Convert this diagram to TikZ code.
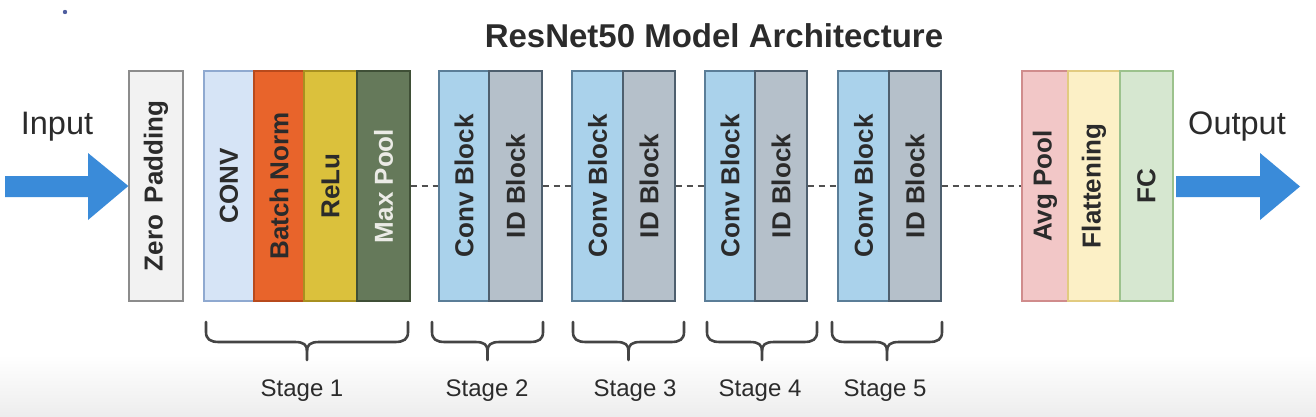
\documentclass[tikz,border=0pt]{standalone}
\usepackage{fontspec}
\setmainfont{Liberation Sans}
\definecolor{txt}{HTML}{2B2B2B}
\definecolor{arrowblue}{HTML}{3A8BD9}
\definecolor{zpfill}{HTML}{F2F2F2}\definecolor{zpdraw}{HTML}{8C8C8C}
\definecolor{cvfill}{HTML}{D6E4F6}\definecolor{cvdraw}{HTML}{8FA9D0}
\definecolor{bnfill}{HTML}{E8642B}\definecolor{bndraw}{HTML}{B84A1C}
\definecolor{rlfill}{HTML}{DBC13C}\definecolor{rldraw}{HTML}{A89020}
\definecolor{mpfill}{HTML}{65795A}\definecolor{mpdraw}{HTML}{3F4F36}
\definecolor{cbfill}{HTML}{AAD2EB}\definecolor{cbdraw}{HTML}{5B7E98}
\definecolor{idfill}{HTML}{B5C0CA}\definecolor{iddraw}{HTML}{4E5F6E}
\definecolor{apfill}{HTML}{F2C7C7}\definecolor{apdraw}{HTML}{D08C8C}
\definecolor{flfill}{HTML}{FCF0C6}\definecolor{fldraw}{HTML}{E2CB80}
\definecolor{fcfill}{HTML}{D6E7D0}\definecolor{fcdraw}{HTML}{9CC28D}
\definecolor{brcol}{HTML}{444444}
\definecolor{dashcol}{HTML}{505050}
\begin{document}
\begin{tikzpicture}[x=1pt,y=-1pt,
  blk/.style={draw, rotate=90, minimum width=230pt, minimum height=#1pt, inner sep=0pt,
    font=\fontsize{26}{30}\selectfont\bfseries, text=txt, line width=1.3pt},
  blk/.default=50,
  dashconn/.style={dashcol, line width=2.6pt, dash pattern=on 6pt off 5pt},
  brc/.style={brcol, line width=2.6pt, line cap=round, line join=round},
  fat/.style={fill=arrowblue, draw=none},
  stagelab/.style={font=\fontsize{24}{27}\selectfont, text=txt},
  biglab/.style={font=\fontsize{32.5}{36}\selectfont, text=txt}
]
\useasboundingbox (0,0) rectangle (1316,416);
\shade[top color=white, bottom color=black!7] (0,355) rectangle (1316,416);
\fill[fill={rgb,255:red,80;green,95;blue,160}] (65,12) circle (2.2pt);

\node[font=\fontsize{33}{38}\selectfont\bfseries, text=txt] (title) at (714,36) {ResNet50 Model Architecture};

% input / output
\node[biglab] (inlab) at (57,127) {Input};
\node[biglab] (outlab) at (1237,127) {Output};

% blocks
\node[blk=54, fill=zpfill, draw=zpdraw] (zp) at (156,186) {Zero\hspace{0.45em}Padding};
\node[blk=50, fill=cvfill, draw=cvdraw] (conv) at (229,186) {CONV};
\node[blk=50, fill=bnfill, draw=bndraw] (bn) at (279,186) {Batch Norm};
\node[blk=53, fill=rlfill, draw=rldraw] (relu) at (330.5,186) {ReLu};
\node[blk=53, fill=mpfill, draw=mpdraw, text={rgb,255:red,235;green,235;blue,230}] (mp) at (383.5,186) {Max Pool};

\node[blk=50, fill=cbfill, draw=cbdraw] (cb2) at (464,186) {Conv Block};
\node[blk=53, fill=idfill, draw=iddraw] (id2) at (515.5,186) {ID Block};
\node[blk=51, fill=cbfill, draw=cbdraw] (cb3) at (597.5,186) {Conv Block};
\node[blk=52, fill=idfill, draw=iddraw] (id3) at (649,186) {ID Block};
\node[blk=50, fill=cbfill, draw=cbdraw] (cb4) at (730,186) {Conv Block};
\node[blk=52, fill=idfill, draw=iddraw] (id4) at (781,186) {ID Block};
\node[blk=51, fill=cbfill, draw=cbdraw] (cb5) at (863.5,186) {Conv Block};
\node[blk=52, fill=idfill, draw=iddraw] (id5) at (915,186) {ID Block};

\node[blk=46, fill=apfill, draw=apdraw] (ap) at (1045,186) {Avg Pool};
\node[blk=52, fill=flfill, draw=fldraw] (fl) at (1094,186) {Flattening};
\node[blk=53, fill=fcfill, draw=fcdraw] (fc) at (1146.5,186) {FC};

% dashed connectors
\draw[dashconn] (mp.south) -- (cb2.north);
\draw[dashconn] (id2.south) -- (cb3.north);
\draw[dashconn] (id3.south) -- (cb4.north);
\draw[dashconn] (id4.south) -- (cb5.north);
\draw[dashconn] (id5.south) -- (ap.north);

% fat arrows
\coordinate (intip) at (zp.north);
\fill[fat] (5,176) -- (88,176) -- (88,153) -- (intip) -- (88,220) -- (88,197) -- (5,197) -- cycle;
\coordinate (outtip) at (1300,186.5);
\fill[fat] (1176,176) -- (1260,176) -- (1260,153) -- (outtip) -- (1260,220) -- (1260,197) -- (1176,197) -- cycle;

% braces
\foreach \a/\b/\lab/\lx in {206/408/1/302, 432/543/2/487, 573/684/3/635, 707/817/4/760, 832/942/5/885}{
  \pgfmathsetmacro\m{(\a+\b)/2}
  \draw[brc] (\a,322) -- (\a,332) .. controls (\a,339) and (\a+4,342) .. (\a+13,342)
     -- (\m-12,342) .. controls (\m-3,342) and (\m,345) .. (\m,351) -- (\m,360);
  \draw[brc] (\b,322) -- (\b,332) .. controls (\b,339) and (\b-4,342) .. (\b-13,342)
     -- (\m+12,342) .. controls (\m+3,342) and (\m,345) .. (\m,351);
  \node[stagelab] (st\lab) at (\lx,391) {Stage \lab};
}
\end{tikzpicture}
\end{document}
